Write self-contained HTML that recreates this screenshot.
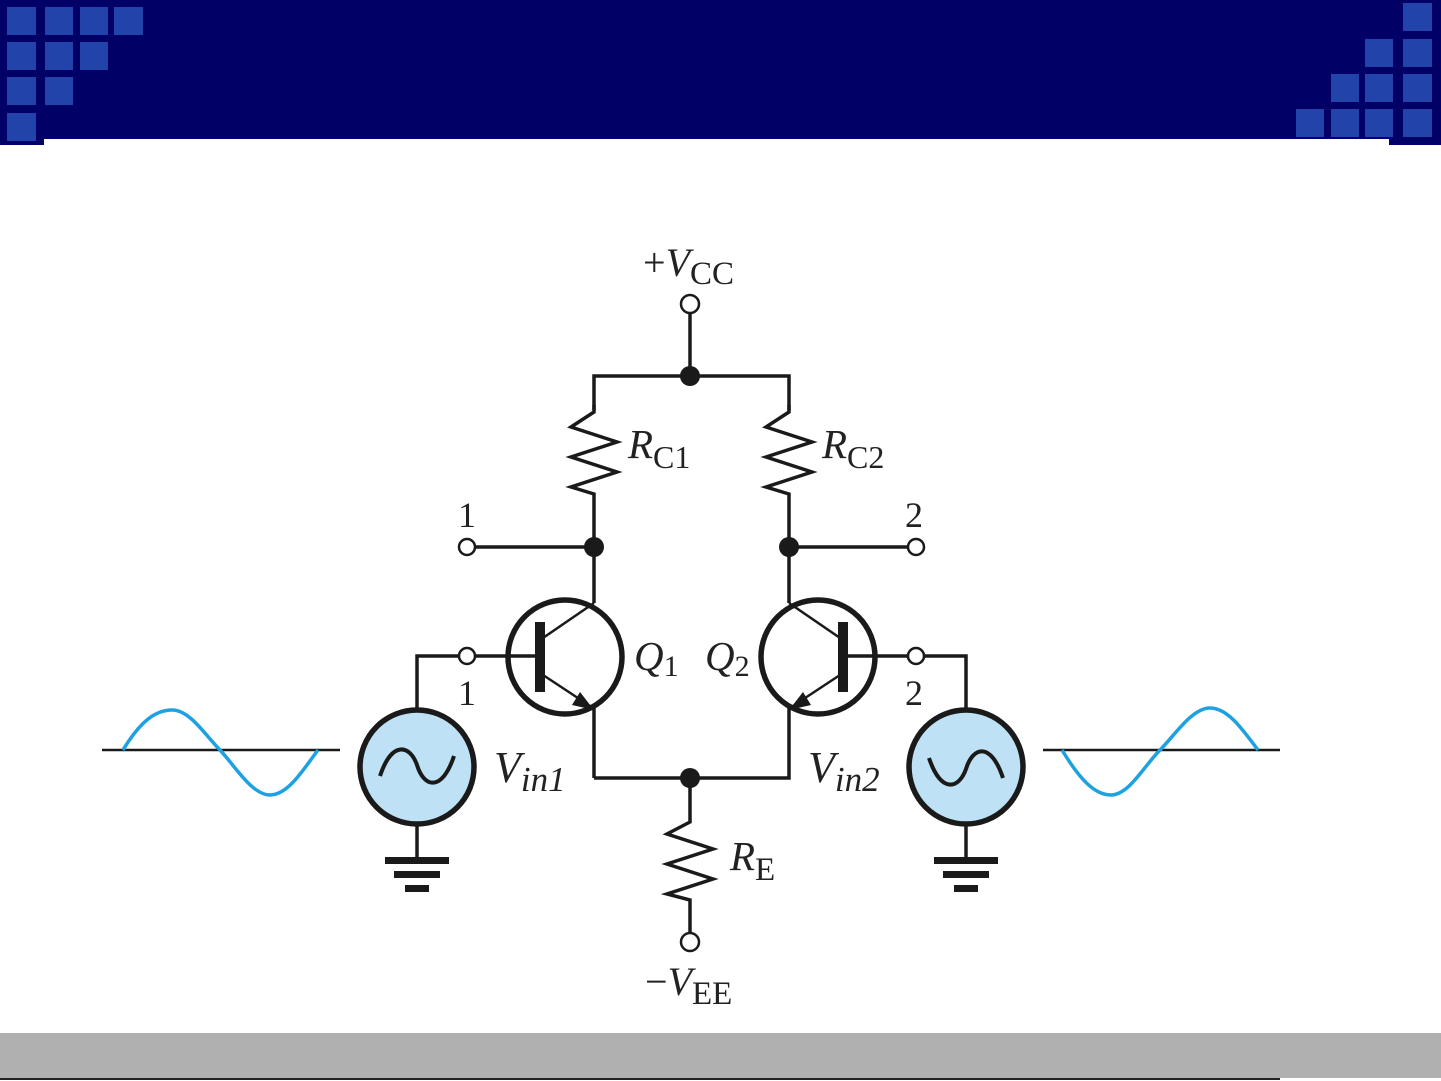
<!DOCTYPE html>
<html><head><meta charset="utf-8"><style>
html,body{margin:0;padding:0;background:#fff;}
body{width:1441px;height:1081px;position:relative;overflow:hidden;}
svg{position:absolute;left:0;top:0;}
text{font-family:"Liberation Serif",serif;fill:#222;}
</style></head><body>
<svg width="1441" height="1081" viewBox="0 0 1441 1081">
<rect x="0" y="0" width="1441" height="139" fill="#000066"/>
<rect x="0" y="139" width="44" height="6" fill="#000066"/>
<rect x="1389" y="139" width="52" height="6" fill="#000066"/>
<g fill="#2244aa">
<rect x="7" y="7" width="29" height="28"/><rect x="45" y="7" width="28" height="28"/><rect x="80" y="7" width="28" height="28"/><rect x="114" y="7" width="29" height="28"/>
<rect x="7" y="42" width="29" height="28"/><rect x="45" y="42" width="28" height="28"/><rect x="80" y="42" width="28" height="28"/>
<rect x="7" y="77" width="29" height="28"/><rect x="45" y="77" width="28" height="28"/>
<rect x="7" y="113" width="29" height="28"/>
<rect x="1403" y="3" width="29" height="28"/>
<rect x="1365" y="39" width="28" height="28"/><rect x="1403" y="39" width="29" height="28"/>
<rect x="1331" y="74" width="28" height="28"/><rect x="1365" y="74" width="28" height="28"/><rect x="1403" y="74" width="29" height="28"/>
<rect x="1296" y="109" width="28" height="28"/><rect x="1331" y="109" width="28" height="28"/><rect x="1365" y="109" width="28" height="28"/><rect x="1403" y="109" width="29" height="28"/>
</g>
<rect x="0" y="1033" width="1441" height="45" fill="#b0b0b0"/>
<rect x="0" y="1078" width="1280" height="2" fill="#222"/>

<g stroke="#1a1a1a" stroke-width="3.5" fill="none" stroke-linejoin="miter">
<line x1="690" y1="313" x2="690" y2="376"/>
<polyline points="594,410 594,376 789,376 789,410"/>
<polyline points="594,405 594,412 571,427 617,442 571,457 617,472 571,487 594,494 594,547"/>
<polyline points="789,405 789,412 766,427 812,442 766,457 812,472 766,487 789,494 789,547"/>
<line x1="475" y1="547" x2="594" y2="547"/>
<line x1="789" y1="547" x2="908" y2="547"/>
<line x1="594" y1="547" x2="594" y2="603"/>
<line x1="789" y1="547" x2="789" y2="603"/>
<circle cx="565" cy="657" r="57" stroke-width="5.5"/>
<line x1="475" y1="656" x2="540" y2="656"/>
<line x1="540" y1="640" x2="594" y2="603" stroke-width="2.5"/>
<line x1="540" y1="673" x2="590" y2="706" stroke-width="2.5"/>
<line x1="594" y1="708" x2="594" y2="778"/>
<polyline points="594,778 789,778 789,708"/>
<circle cx="818" cy="657" r="57" stroke-width="5.5"/>
<line x1="843" y1="656" x2="908" y2="656"/>
<line x1="843" y1="640" x2="789" y2="603" stroke-width="2.5"/>
<line x1="843" y1="673" x2="793" y2="706" stroke-width="2.5"/>
<polyline points="459,656 417,656 417,709"/>
<polyline points="924,656 966,656 966,709"/>
<line x1="417" y1="825" x2="417" y2="860"/>
<line x1="966" y1="825" x2="966" y2="860"/>
<polyline points="690,778 690,822 667,834 713,849 667,864 713,879 667,894 690,900 690,934"/>
<line x1="102" y1="750" x2="340" y2="750" stroke-width="2.5"/>
<line x1="1043" y1="750" x2="1280" y2="750" stroke-width="2.5"/>
</g>
<rect x="535" y="622" width="10" height="70" fill="#1a1a1a"/>
<rect x="838" y="622" width="10" height="70" fill="#1a1a1a"/>
<polygon points="594,710 572,705 580,692" fill="#1a1a1a"/>
<polygon points="789,710 811,705 803,692" fill="#1a1a1a"/>
<g fill="#1a1a1a">
<circle cx="690" cy="376" r="10"/><circle cx="594" cy="547" r="10"/><circle cx="789" cy="547" r="10"/><circle cx="690" cy="778" r="10"/>
</g>
<g fill="#fff" stroke="#1a1a1a" stroke-width="2.5">
<circle cx="690" cy="304" r="9"/><circle cx="467" cy="547" r="8"/><circle cx="916" cy="547" r="8"/>
<circle cx="467" cy="656" r="8"/><circle cx="916" cy="656" r="8"/><circle cx="690" cy="942" r="9"/>
</g>
<circle cx="417" cy="767" r="57" fill="#bfe1f5" stroke="#1a1a1a" stroke-width="5.5"/>
<circle cx="966" cy="767" r="57" fill="#bfe1f5" stroke="#1a1a1a" stroke-width="5.5"/>
<path d="M380,776 C392,740 410,745 417,765 C424,788 442,792 454,756" stroke="#1a1a1a" stroke-width="4" fill="none"/>
<path d="M929,758 C941,794 959,789 966,769 C973,746 991,742 1003,778" stroke="#1a1a1a" stroke-width="4" fill="none"/>
<g fill="#1a1a1a">
<rect x="385" y="857" width="64" height="7"/><rect x="394" y="871" width="46" height="7"/><rect x="405" y="885" width="24" height="7"/>
<rect x="934" y="857" width="64" height="7"/><rect x="943" y="871" width="46" height="7"/><rect x="954" y="885" width="24" height="7"/>
</g>
<path d="M123,750 C140,722 155,710 172,710 C190,710 205,735 220,750 C235,766 252,795 270,795 C288,795 303,770 318,750" stroke="#1da1e0" stroke-width="3.5" fill="none"/>
<path d="M1062,750 C1079,778 1094,795 1111,795 C1129,795 1144,766 1160,750 C1175,735 1192,708 1210,708 C1228,708 1243,730 1258,750" stroke="#1da1e0" stroke-width="3.5" fill="none"/>
<text x="643" y="276" font-size="40">+<tspan font-style="italic">V</tspan><tspan font-size="33" dy="8">CC</tspan></text>
<text x="628" y="458" font-size="41" font-style="italic">R<tspan font-style="normal" font-size="32" dy="10">C1</tspan></text>
<text x="822" y="458" font-size="41" font-style="italic">R<tspan font-style="normal" font-size="32" dy="10">C2</tspan></text>
<text x="458" y="527" font-size="36">1</text>
<text x="905" y="527" font-size="36">2</text>
<text x="458" y="705" font-size="36">1</text>
<text x="905" y="705" font-size="36">2</text>
<text x="634" y="670" font-size="41" font-style="italic">Q<tspan font-style="normal" font-size="30" dy="6">1</tspan></text>
<text x="705" y="670" font-size="41" font-style="italic">Q<tspan font-style="normal" font-size="30" dy="6">2</tspan></text>
<text x="494" y="782" font-size="44" font-style="italic">V<tspan font-size="35" dy="9">in1</tspan></text>
<text x="808" y="782" font-size="44" font-style="italic">V<tspan font-size="35" dy="9">in2</tspan></text>
<text x="730" y="870" font-size="41" font-style="italic">R<tspan font-style="normal" font-size="33" dy="10">E</tspan></text>
<text x="645" y="995" font-size="40">−<tspan font-style="italic">V</tspan><tspan font-size="33" dy="9">EE</tspan></text>
</svg>
</body></html>
